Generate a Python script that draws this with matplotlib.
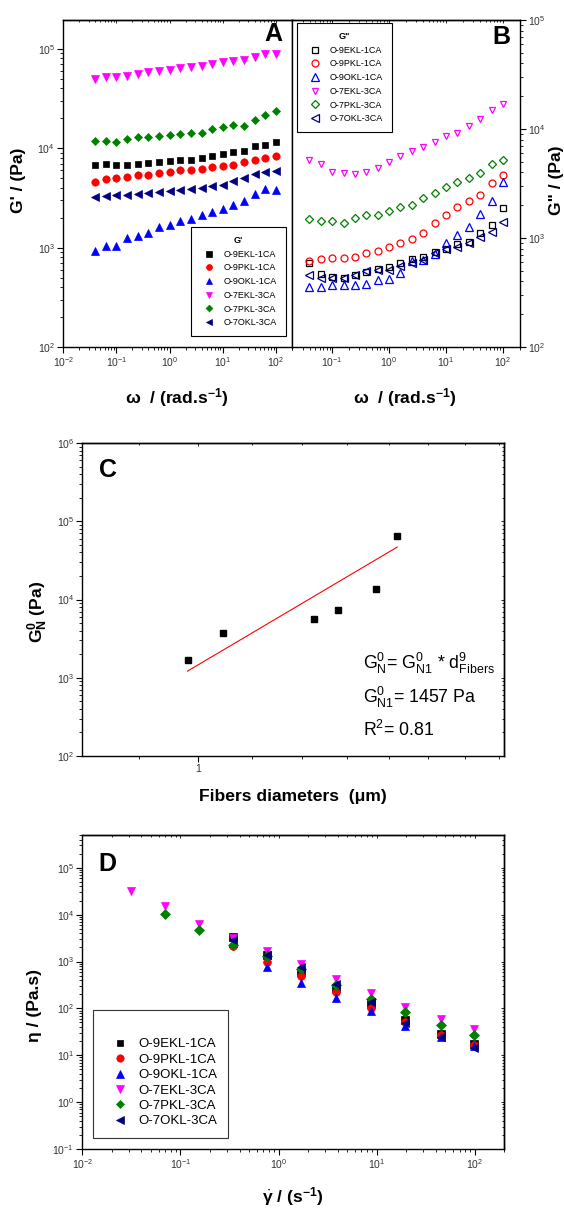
import numpy as np
import matplotlib
matplotlib.use("Agg")
import matplotlib.pyplot as plt
from matplotlib.ticker import LogLocator, FixedLocator, NullFormatter, FixedFormatter

plt.rcParams['font.family'] = ['Liberation Sans', 'DejaVu Sans']
plt.rcParams['mathtext.fontset'] = 'custom'
plt.rcParams['mathtext.rm'] = 'Liberation Sans'
plt.rcParams['mathtext.it'] = 'Liberation Sans:italic'
plt.rcParams['mathtext.bf'] = 'Liberation Sans:bold'

# ---------------- data ----------------
samples = ['O-9EKL-1CA', 'O-9PKL-1CA', 'O-9OKL-1CA', 'O-7EKL-3CA', 'O-7PKL-3CA', 'O-7OKL-3CA']
colors = ['#000000', '#ff0000', '#0000ff', '#ff00ff', '#008000', '#000080']
markers = ['s', 'o', '^', 'v', 'D', '<']

omega = [0.0398, 0.0631, 0.1, 0.158, 0.251, 0.398, 0.631, 1.0, 1.58, 2.51,
         3.98, 6.31, 10.0, 15.8, 25.1, 39.8, 63.1, 100.0]

# G' (Pa)
Gp_9EKL = [6840, 6950, 6840, 6730, 6950, 7110, 7210, 7380, 7550, 7670, 7980, 8420, 8830, 9180, 9460, 10450, 10870, 11450]
Gp_9PKL = [4580, 4950, 5020, 5140, 5340, 5420, 5640, 5770, 5990, 6090, 6230, 6420, 6570, 6840, 7210, 7670, 7980, 8420]
Gp_9OKL = [931, 1045, 1045, 1250, 1297, 1403, 1597, 1700, 1835, 1940, 2110, 2260, 2450, 2700, 2920, 3465, 3920, 3830]
Gp_7EKL = [50200, 51800, 51800, 53800, 56400, 58100, 60400, 61800, 64400, 65300, 67900, 70600, 73300, 76200, 78000, 83000, 89100, 87700]
Gp_7PKL = [11900, 11900, 11650, 12400, 12900, 12900, 13200, 13600, 14000, 14260, 14260, 15700, 16200, 17200, 16900, 19400, 21400, 23500]
Gp_7OKL = [3240, 3330, 3360, 3360, 3490, 3550, 3630, 3680, 3830, 3890, 3980, 4130, 4300, 4720, 5020, 5550, 5720, 5940]

# G'' (Pa)
Gpp_9EKL = [590, 465, 440, 434, 462, 489, 525, 543, 590, 648, 670, 745, 801, 872, 921, 1100, 1330, 1867]
Gpp_9PKL = [617, 635, 649, 649, 663, 721, 762, 819, 902, 969, 1114, 1376, 1620, 1930, 2193, 2472, 3163, 3774]
Gpp_9OKL = [356, 356, 369, 369, 374, 377, 416, 425, 478, 613, 625, 709, 902, 1061, 1265, 1655, 2193, 3274]
Gpp_7EKL = [5180, 4760, 3990, 3910, 3850, 3990, 4400, 4930, 5670, 6270, 6780, 7630, 8600, 9230, 10630, 12300, 14900, 16800]
Gpp_7PKL = [1479, 1436, 1427, 1387, 1541, 1618, 1618, 1773, 1930, 2000, 2305, 2563, 2911, 3277, 3519, 3910, 4730, 5180]
Gpp_7OKL = [462, 434, 434, 434, 455, 499, 514, 514, 551, 590, 625, 730, 801, 828, 891, 1024, 1142, 1406]

# Panel C
fiber_d = [0.981, 1.045, 1.226, 1.278, 1.367, 1.420]
GN0 = [1667, 3780, 5700, 7450, 13700, 64500]
fit_d = [0.981, 1.420]
fit_G = [1215, 46800]
fiber_ticks_minor = [0.9, 1.1, 1.2, 1.3, 1.4, 1.5, 1.6, 1.7]

# Panel D viscosity (Pa.s)
shear = [0.031, 0.069, 0.153, 0.342, 0.766, 1.71, 3.83, 8.8, 19.5, 45.0, 98.0]
nan = np.nan
eta_9EKL = [nan, nan, nan, 3300, 1400, 590, 275, 125, 56, 28.5, 17]
eta_9PKL = [nan, nan, nan, 2120, 1000, 490, 226, 102, 52, 27.5, 16.8]
eta_9OKL = [nan, nan, nan, 2500, 755, 350, 166, 87, 42, 24, 15.5]
eta_7EKL = [32700, 15100, 6200, 3200, 1710, 900, 432, 214, 105, 60, 37]
eta_7PKL = [nan, 10400, 4650, 2300, 1300, 680, 310, 155, 83, 45, 26.6]
eta_7OKL = [nan, nan, nan, 2900, 1400, 770, 333, 140, 49, 25, 14]

Gp = [Gp_9EKL, Gp_9PKL, Gp_9OKL, Gp_7EKL, Gp_7PKL, Gp_7OKL]
Gpp = [Gpp_9EKL, Gpp_9PKL, Gpp_9OKL, Gpp_7EKL, Gpp_7PKL, Gpp_7OKL]
eta = [eta_9EKL, eta_9PKL, eta_9OKL, eta_7EKL, eta_7PKL, eta_7OKL]

# ---------------- figure ----------------
W, H = 564, 1210
fig = plt.figure(figsize=(W / 100, H / 100), dpi=100)


def px_ax(l, t, r, b):
    return fig.add_axes([l / W, 1 - b / H, (r - l) / W, (b - t) / H])


def ftext(x, y, s, **kw):
    return fig.text(x / W, 1 - y / H, s, **kw)


TICKC = '#333333'
LBL = 12.6
ident = (lambda v: v, lambda v: v)


def style_log(ax, left=True, right=False, labelright=False, labelleft=True):
    ax.set_xscale('log')
    ax.set_yscale('log')
    for sp in ax.spines.values():
        sp.set_linewidth(1.0)
    ax.tick_params(which='both', direction='out', labelsize=7.5, labelcolor=TICKC, pad=2,
                   left=left, right=right, labelleft=labelleft, labelright=labelright,
                   top=False, bottom=True)
    ax.tick_params(which='major', length=4, width=0.8)
    ax.tick_params(which='minor', length=2, width=0.6)


def mirror_top(ax, major=None, minor=None):
    sx = ax.secondary_xaxis('top', functions=ident)
    sx.tick_params(which='both', direction='in', labeltop=False, width=0.6)
    sx.tick_params(which='major', length=2.5)
    sx.tick_params(which='minor', length=1.2)
    if major is not None:
        sx.xaxis.set_major_locator(FixedLocator(major))
    if minor is not None:
        sx.xaxis.set_minor_locator(FixedLocator(minor))
    else:
        sx.xaxis.set_minor_locator(LogLocator(base=10, subs=np.arange(2, 10)))
    sx.xaxis.set_minor_formatter(NullFormatter())
    sx.spines['top'].set_linewidth(1.0)
    return sx


def mirror_right(ax):
    sy = ax.secondary_yaxis('right', functions=ident)
    sy.tick_params(which='both', direction='in', labelright=False, width=0.6)
    sy.tick_params(which='major', length=2.5)
    sy.tick_params(which='minor', length=1.2)
    sy.yaxis.set_minor_locator(LogLocator(base=10, subs=np.arange(2, 10)))
    sy.yaxis.set_minor_formatter(NullFormatter())
    sy.spines['right'].set_linewidth(1.0)
    return sy


def make_legend(ax, anchor, loc, fs, title, title_fs, bold_title, pad, hl, htp, ls, ms_scale, ec):
    tp = {'size': title_fs}
    if bold_title:
        tp['weight'] = 'bold'
    leg = ax.legend(loc=loc, bbox_to_anchor=(anchor[0] / W, 1 - anchor[1] / H),
                    bbox_transform=fig.transFigure, borderaxespad=0, fontsize=fs,
                    title=title, title_fontproperties=tp,
                    frameon=True, fancybox=False, edgecolor=ec, framealpha=1,
                    borderpad=pad, handlelength=hl, handletextpad=htp, labelspacing=ls,
                    markerscale=ms_scale)
    leg.get_frame().set_linewidth(0.8)
    return leg


# ---- Panel A ----
axA = px_ax(63.3, 20, 292, 347)
style_log(axA)
msA = [4.8, 5.3, 6.0, 6.0, 4.3, 5.8]
for i in range(6):
    axA.plot(omega, Gp[i], linestyle='none', marker=markers[i], color=colors[i],
             markersize=msA[i], markeredgewidth=0.5, label=samples[i])
axA.set_xlim(0.01, 200)
axA.set_ylim(100, 1.95e5)
axA.xaxis.set_minor_locator(LogLocator(base=10, subs=np.arange(2, 10)))
axA.yaxis.set_minor_locator(LogLocator(base=10, subs=np.arange(2, 10)))
mirror_top(axA)
make_legend(axA, (191, 227), 'upper left', 6.5, "G'", 6.6, True, 1.0, 2.0, 0.6, 0.52, 0.8, 'black')
ftext(273, 34, 'A', fontsize=18, fontweight='bold', ha='center', va='center')
ftext(19, 180, "G' / (Pa)", fontsize=LBL, fontweight='bold', rotation=90, ha='center', va='center')
ftext(177, 398, r"ω  / (rad.s$^{\mathbf{-1}}$)", fontsize=LBL, fontweight='bold', ha='center', va='center')

# ---- Panel B ----
axB = px_ax(292, 20, 520, 347)
style_log(axB, left=False, right=True, labelright=True, labelleft=False)
msB = [3.8, 5.0, 5.3, 3.8, 3.8, 5.3]
for i in range(6):
    axB.plot(omega, Gpp[i], linestyle='none', marker=markers[i], markerfacecolor='none',
             markeredgecolor=colors[i], markersize=msB[i], markeredgewidth=0.9, label=samples[i])
axB.set_xlim(0.0196, 200)
axB.set_ylim(100, 1e5)
axB.xaxis.set_minor_locator(LogLocator(base=10, subs=np.arange(2, 10)))
axB.yaxis.set_minor_locator(LogLocator(base=10, subs=np.arange(2, 10)))
mirror_top(axB)
make_legend(axB, (297, 23), 'upper left', 6.5, 'G"', 6.6, True, 1.0, 2.0, 0.6, 0.52, 1.0, 'black')
ftext(501, 37, 'B', fontsize=18, fontweight='bold', ha='center', va='center')
ftext(557, 180, 'G" / (Pa)', fontsize=LBL, fontweight='bold', rotation=90, ha='center', va='center')
ftext(405, 398, r"ω  / (rad.s$^{\mathbf{-1}}$)", fontsize=LBL, fontweight='bold', ha='center', va='center')

# ---- Panel C ----
axC = px_ax(82.4, 443, 504.3, 756)
style_log(axC)
axC.plot(fit_d, fit_G, color='#ff0000', linewidth=0.8)
axC.plot(fiber_d, GN0, linestyle='none', marker='s', color='black', markersize=5.0)
axC.set_xlim(0.815, 1.715)
axC.set_ylim(100, 1e6)
axC.xaxis.set_major_locator(FixedLocator([1.0]))
axC.xaxis.set_major_formatter(FixedFormatter(['1']))
axC.xaxis.set_minor_locator(FixedLocator(fiber_ticks_minor))
axC.xaxis.set_minor_formatter(NullFormatter())
axC.yaxis.set_minor_locator(LogLocator(base=10, subs=np.arange(2, 10)))
axC.yaxis.set_minor_formatter(NullFormatter())
mirror_top(axC, major=[1.0], minor=fiber_ticks_minor)
mirror_right(axC)
ftext(107.5, 470, 'C', fontsize=18, fontweight='bold', ha='center', va='center')
ftext(363, 663, r"G$_{\mathrm{N}}^{0}$= G$_{\mathrm{N1}}^{0}$ * d$_{\mathrm{Fibers}}^{9}$", fontsize=12.8, ha='left', va='center')
ftext(363, 697, r"G$_{\mathrm{N1}}^{0}$= 1457 Pa", fontsize=12.8, ha='left', va='center')
ftext(363, 730, r"R$^{2}$= 0.81", fontsize=12.8, ha='left', va='center')
ftext(38, 612, r"$\mathbf{G_N^0}$ (Pa)", fontsize=LBL, fontweight='bold', rotation=90, ha='center', va='center')
ftext(293, 797, "Fibers diameters  (μm)", fontsize=LBL, fontweight='bold', ha='center', va='center')

# ---- Panel D ----
axD = px_ax(82.4, 835, 504.3, 1149)
style_log(axD)
msD = [5.2, 5.6, 6.2, 6.2, 4.6, 6.0]
for i in range(6):
    axD.plot(shear, eta[i], linestyle='none', marker=markers[i], color=colors[i],
             markersize=msD[i], markeredgewidth=0.5, label=samples[i])
axD.set_xlim(0.01, 200)
axD.set_ylim(0.1, 5e5)
axD.xaxis.set_minor_locator(LogLocator(base=10, subs=np.arange(2, 10)))
axD.yaxis.set_minor_locator(LogLocator(base=10, subs=np.arange(2, 10)))
axD.yaxis.set_minor_formatter(NullFormatter())
mirror_top(axD)
mirror_right(axD)
make_legend(axD, (93.3, 1138), 'lower left', 9.5, ' ', 10, False, 0.8, 2.4, 0.2, 0.24, 0.95, '#333333')
ftext(107.5, 864, 'D', fontsize=18, fontweight='bold', ha='center', va='center')
ftext(34, 1006, "η / (Pa.s)", fontsize=LBL, fontweight='bold', rotation=90, ha='center', va='center')
ftext(293, 1197, r"$\dot{\mathbf{\gamma}}$ / (s$^{\mathbf{-1}}$)", fontsize=LBL, fontweight='bold', ha='center', va='center')

fig.savefig('out.png', dpi=100)
